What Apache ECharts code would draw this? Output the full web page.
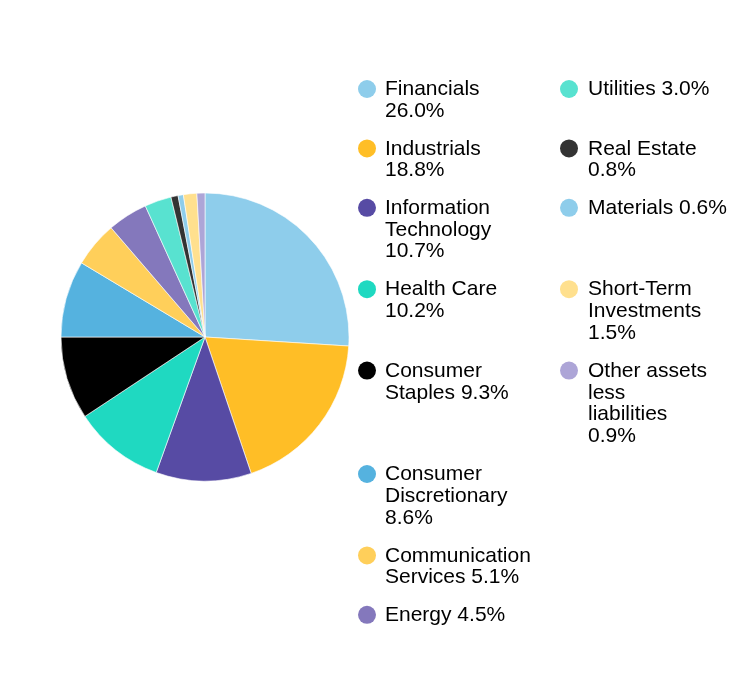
<!DOCTYPE html>
<html>
<head>
<meta charset="utf-8">
<script src="https://cdn.jsdelivr.net/npm/echarts@6/dist/echarts.min.js"></script>
<style>
  html, body { margin: 0; padding: 0; background: #fff; }
  #chart { width: 756px; height: 684px; }
</style>
</head>
<body>
<div id="chart"></div>
<script>
// sectors, in pie order (clockwise from 12 o'clock)
var sectors = ['Financials', 'Industrials', 'Information Technology', 'Health Care',
  'Consumer Staples', 'Consumer Discretionary', 'Communication Services', 'Energy',
  'Utilities', 'Real Estate', 'Materials', 'Short-Term Investments',
  'Other assets less liabilities'];
var weights = [26.0, 18.8, 10.7, 10.2, 9.3, 8.6, 5.1, 4.5, 3.0, 0.8, 0.6, 1.5, 0.9];
var colors = ['#8ecdeb', '#ffbe26', '#574ba4', '#1fd9c1', '#000000', '#55b2df',
  '#ffcf5a', '#8478bc', '#58e2d0', '#333333', '#8ecdeb', '#ffe08e', '#ada5d7'];
// how the legend text wraps before the percentage
var wrapped = ['Financials\n', 'Industrials\n', 'Information\nTechnology\n', 'Health Care\n',
  'Consumer\nStaples ', 'Consumer\nDiscretionary\n', 'Communication\nServices ', 'Energy ',
  'Utilities ', 'Real Estate\n', 'Materials ', 'Short-Term\nInvestments\n',
  'Other assets\nless\nliabilities\n'];
// legend columns (indexes into the arrays above)
var leftCol = [0, 1, 2, 3, 4, 5, 6, 7];
var rightCol = [8, 9, 10, 11, 12];

var chart = echarts.init(document.getElementById('chart'));

var pieData = sectors.map(function (s, i) {
  return { name: s, value: weights[i], itemStyle: { color: colors[i] } };
});

// legend drawn as graphic elements so the marker sits on the first line
var FONT = '21px "Liberation Sans", Arial, sans-serif';
var LH = 21.7, STEP = 22, GAP = 15.4;
var labels = wrapped.map(function (w, i) { return w + weights[i].toFixed(1) + '%'; });
var lines = labels.map(function (l) { return l.split('\n').length; });
var elements = [];
var y = 89;
for (var r = 0; r < leftCol.length; r++) {
  var n = 0;
  [[leftCol[r], 367, 385], [rightCol[r], 569, 588]].forEach(function (c) {
    var idx = c[0];
    if (idx === undefined) return;
    n = Math.max(n, lines[idx]);
    elements.push({
      type: 'circle', shape: { cx: c[1], cy: y, r: 9 },
      style: { fill: colors[idx] }, silent: true
    });
    elements.push({
      type: 'text', x: c[2], y: y - LH / 2 + 0.5,
      style: { text: labels[idx], font: FONT, fill: '#000', lineHeight: LH, verticalAlign: 'top' },
      silent: true
    });
  });
  y += n * STEP + GAP;
}

chart.setOption({
  animation: false,
  backgroundColor: '#fff',
  graphic: { elements: elements },
  series: [{
    type: 'pie',
    center: [205, 337],
    radius: [0, 144],
    startAngle: 90,
    clockwise: true,
    label: { show: false },
    labelLine: { show: false },
    itemStyle: { borderColor: '#fff', borderWidth: 0.6 },
    emphasis: { disabled: true },
    data: pieData
  }]
});
</script>
</body>
</html>
